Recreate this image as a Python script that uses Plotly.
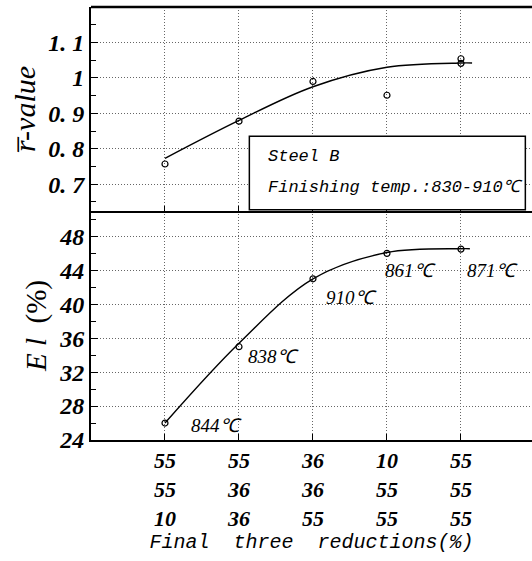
import plotly.graph_objects as go

# ---- data ----
categories = [1, 2, 3, 4, 5]
red_row1 = ["55", "55", "36", "10", "55"]
red_row2 = ["55", "36", "36", "55", "55"]
red_row3 = ["10", "36", "55", "55", "55"]

r_x = [1, 2, 3, 4, 5, 5]
r_val = [0.757, 0.878, 0.99, 0.951, 1.054, 1.041]
r_fit_x = [1, 2, 3, 4, 5, 5.15]
r_fit_y = [0.773, 0.88, 0.975, 1.03, 1.042, 1.042]

el_x = [1, 2, 3, 4, 5]
el_val = [26.0, 35.0, 43.0, 46.0, 46.5]
el_fit_x = [1, 2, 3, 4, 5, 5.12]
el_fit_y = [26.0, 35.4, 43.0, 46.1, 46.55, 46.55]
temp_labels = ["844℃", "838℃", "910℃", "861℃", "871℃"]

r_ticks = [0.7, 0.8, 0.9, 1.0, 1.1]
r_ticktext = ["0. 7", "0. 8", "0. 9", "1", "1. 1"]
el_ticks = [24, 28, 32, 36, 40, 44, 48]

# ---- figure ----
fig = go.Figure()
line_style = dict(color="black", width=1.4)
marker_style = dict(symbol="circle-open", size=6, color="black", line=dict(width=1.2))

fig.add_trace(go.Scatter(x=r_fit_x, y=r_fit_y, mode="lines", line_shape="spline",
                         line=line_style, xaxis="x2", yaxis="y2", hoverinfo="skip"))
fig.add_trace(go.Scatter(x=r_x, y=r_val, mode="markers", marker=marker_style,
                         xaxis="x2", yaxis="y2"))
fig.add_trace(go.Scatter(x=el_fit_x, y=el_fit_y, mode="lines", line_shape="spline",
                         line=line_style, xaxis="x", yaxis="y", hoverinfo="skip"))
fig.add_trace(go.Scatter(x=el_x, y=el_val, mode="markers", marker=marker_style,
                         xaxis="x", yaxis="y"))

num_font = dict(family="Liberation Serif", size=24, color="black", style="italic", weight="bold")
xnum_font = dict(family="Liberation Serif", size=22, color="black", style="italic", weight="bold")
mono_font = dict(family="Liberation Mono", size=17, color="black", style="italic")

split = 0.529
grid = dict(showgrid=True, gridcolor="#666", griddash="1px,2px", gridwidth=1)

fig.update_layout(
    width=532, height=561,
    margin=dict(l=91, r=0, t=7, b=121),
    plot_bgcolor="white", paper_bgcolor="white",
    showlegend=False,
    xaxis=dict(domain=[0, 1], range=[0, 5.96], anchor="y",
               tickmode="array", tickvals=categories,
               ticktext=[f"{a}<br>{b}<br>{c}" for a, b, c in zip(red_row1, red_row2, red_row3)],
               tickfont=xnum_font, ticks="inside", ticklen=6, tickcolor="black",
               ticklabelstandoff=0,
               showline=True, linecolor="black", linewidth=2, zeroline=False,
               title=dict(text="Final\u00a0\u00a0three\u00a0\u00a0reductions(%)",
                          font=dict(family="Liberation Mono", size=20, color="black", style="italic"),
                          standoff=4),
               **grid),
    xaxis2=dict(domain=[0, 1], range=[0, 5.96], anchor="y2", matches="x",
                tickmode="array", tickvals=categories, showticklabels=False,
                ticks="inside", ticklen=5, tickcolor="black",
                showline=True, linecolor="black", linewidth=2, zeroline=False, **grid),
    yaxis=dict(domain=[0, split], range=[24, 51.0], anchor="x",
               tickmode="array", tickvals=el_ticks, tickfont=num_font,
               ticks="inside", ticklen=7, tickcolor="black",
               minor=dict(tickmode="array", tickvals=[26, 30, 34, 38, 42, 46, 50],
                          ticks="inside", ticklen=5, tickcolor="black", showgrid=False),
               showline=True, linecolor="black", linewidth=2, zeroline=False,
               title=dict(text="<i>E l</i>  (%)", font=dict(family="Liberation Serif", size=29, color="black"),
                          standoff=4),
               **grid),
    yaxis2=dict(domain=[split, 1], range=[0.6246, 1.2], anchor="x2",
                tickmode="array", tickvals=r_ticks, ticktext=r_ticktext, tickfont=num_font,
                ticks="inside", ticklen=7, tickcolor="black",
                minor=dict(tickmode="array", tickvals=[0.65, 0.75, 0.85, 0.95, 1.05, 1.15],
                           ticks="inside", ticklen=5, tickcolor="black", showgrid=False),
                showline=True, linecolor="black", linewidth=2, zeroline=False,
                title=dict(text="<i>r\u0305-value</i>", font=dict(family="Liberation Serif", size=30, color="black"),
                           standoff=4),
                **grid),
)

# top frame line
fig.add_shape(type="line", xref="paper", yref="paper", x0=0, x1=1, y0=1, y1=1,
              line=dict(color="black", width=2.5))

# info box
fig.add_shape(type="rect", xref="x2", yref="y2", x0=2.14, x1=5.87, y0=0.628, y1=0.835,
              line=dict(color="black", width=1.5), fillcolor="white", layer="above")
fig.add_annotation(x=2.36, y=0.778, xref="x2", yref="y2", text="Steel B", showarrow=False,
                   xanchor="left", yanchor="middle", font=mono_font)
fig.add_annotation(x=2.36, y=0.69, xref="x2", yref="y2", text="Finishing temp.:830-910℃",
                   showarrow=False, xanchor="left", yanchor="middle", font=mono_font)

# temperature labels
lab_font = dict(family="Liberation Serif", size=19, color="black", style="italic")
lab_pos = [(1.33, 25.7), (2.1, 33.8), (3.15, 40.8), (3.95, 44.0), (5.05, 44.0)]
for t, (lx, ly) in zip(temp_labels, lab_pos):
    fig.add_annotation(x=lx, y=ly, xref="x", yref="y", text=t, showarrow=False,
                       xanchor="left", yanchor="middle", font=lab_font)

fig.write_html("out.html")
